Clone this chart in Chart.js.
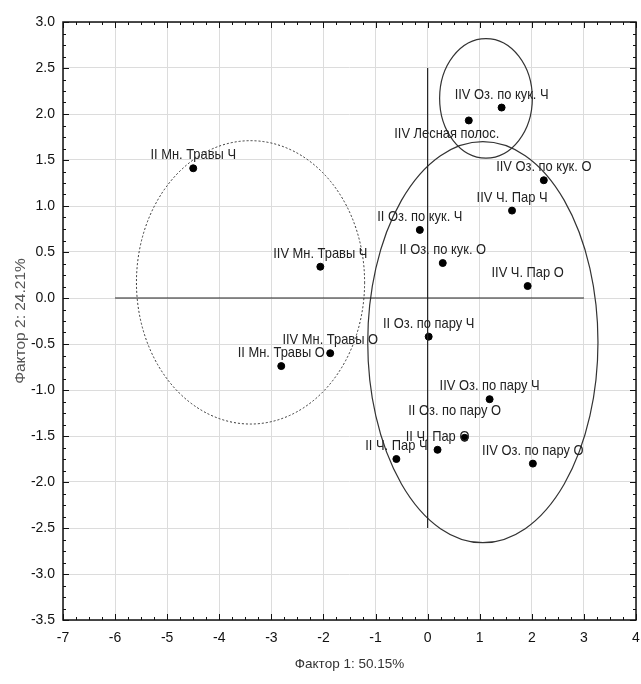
<!DOCTYPE html>
<html>
<head>
<meta charset="utf-8">
<script src="https://cdn.jsdelivr.net/npm/chart.js@4.4.0/dist/chart.umd.min.js"></script>
<style>
    html, body { margin: 0; padding: 0; background: #fff; }
</style>
</head>
<body>
<canvas id="myChart" width="641" height="684"></canvas>
<script>
// point names + factor scores
var names = [
    "IIV Оз. по кук. Ч", "IIV Лесная полос.", "IIV Оз. по кук. О", "IIV Ч. Пар Ч",
    "II Оз. по кук. Ч", "II Оз. по кук. О", "IIV Ч. Пар О", "II Мн. Травы Ч",
    "IIV Мн. Травы Ч", "IIV Мн. Травы О", "II Мн. Травы О", "II Оз. по пару Ч",
    "IIV Оз. по пару Ч", "II Оз. по пару О", "II Ч. Пар О", "II Ч. Пар Ч",
    "IIV Оз. по пару О"
];
var factor1 = [1.42, 0.79, 2.23, 1.62, -0.15, 0.29, 1.92, -4.50, -2.06, -1.87, -2.81, 0.02, 1.19, 0.71, 0.19, -0.60, 2.02];
var factor2 = [2.07, 1.93, 1.28, 0.95, 0.74, 0.38, 0.13, 1.41, 0.34, -0.60, -0.74, -0.42, -1.10, -1.52, -1.65, -1.75, -1.80];

var xTicks = [-7, -6, -5, -4, -3, -2, -1, 0, 1, 2, 3, 4];
var yTicks = [-3.5, -3.0, -2.5, -2.0, -1.5, -1.0, -0.5, 0.0, 0.5, 1.0, 1.5, 2.0, 2.5, 3.0];

// group ellipses (data units)
var ellipseCx = [-3.40, 1.12, 1.06];
var ellipseCy = [0.17, 2.17, -0.48];
var ellipseRx = [2.19, 0.89, 2.21];
var ellipseRy = [1.54, 0.65, 2.18];

// cross lines through origin
var hLineX = [-6, 3];
var vLineY = [-2.5, 2.5];

var xTitle = "Фактор 1: 50.15%";
var yTitle = "Фактор 2: 24.21%";

var sans = "'Liberation Sans', Arial, sans-serif";

var points = names.map(function (n, i) { return { x: factor1[i], y: factor2[i] }; });

// labels that were dragged away from the default spot (dx, dy from point)
var labelShift = {
    "IIV Лесная полос.": [-22, 13],
    "II Оз. по пару О": [-10, -27]
};

var ellipsePlugin = {
    id: 'ellipses',
    beforeDatasetsDraw: function (chart) {
        var ctx = chart.ctx, xs = chart.scales.x, ys = chart.scales.y;
        ctx.save();
        ctx.strokeStyle = '#333';
        for (var i = 0; i < ellipseCx.length; i++) {
            var cx = xs.getPixelForValue(ellipseCx[i]);
            var cy = ys.getPixelForValue(ellipseCy[i]);
            var rx = Math.abs(xs.getPixelForValue(ellipseCx[i] + ellipseRx[i]) - cx);
            var ry = Math.abs(ys.getPixelForValue(ellipseCy[i] + ellipseRy[i]) - cy);
            ctx.lineWidth = i === 0 ? 1 : 1.2;
            ctx.setLineDash(i === 0 ? [2, 2] : []);
            ctx.beginPath();
            ctx.ellipse(cx, cy, rx, ry, 0, 0, Math.PI * 2);
            ctx.stroke();
        }
        ctx.restore();
    }
};

// point labels, squeezed a bit sideways like the original narrow font
var labelPlugin = {
    id: 'pointLabels',
    afterDatasetsDraw: function (chart) {
        var ctx = chart.ctx;
        var meta = chart.getDatasetMeta(2);
        ctx.save();
        ctx.font = "15px " + sans;
        ctx.fillStyle = '#222';
        ctx.textAlign = 'center';
        ctx.textBaseline = 'middle';
        meta.data.forEach(function (el, i) {
            var s = labelShift[names[i]] || [0, -13];
            ctx.save();
            ctx.translate(el.x + s[0], el.y + s[1]);
            ctx.scale(0.86, 1);
            ctx.fillText(names[i], 0, 0);
            ctx.restore();
        });
        ctx.restore();
    }
};

// Statistica style frame: box on all sides, ticks pointing inwards
var framePlugin = {
    id: 'frame',
    afterDraw: function (chart) {
        var ctx = chart.ctx, a = chart.chartArea, xs = chart.scales.x, ys = chart.scales.y;
        ctx.save();
        ctx.strokeStyle = '#111';
        ctx.lineWidth = 1.5;
        ctx.strokeRect(a.left, a.top, a.right - a.left, a.bottom - a.top);
        ctx.lineWidth = 1;
        ctx.beginPath();
        for (var v = xTicks[0]; v <= xTicks[xTicks.length - 1] + 1e-9; v += 0.25) {
            var px = Math.round(xs.getPixelForValue(v)) + 0.5;
            var len = Math.abs(v - Math.round(v)) < 1e-6 ? 6 : 3;
            ctx.moveTo(px, a.bottom); ctx.lineTo(px, a.bottom - len);
            ctx.moveTo(px, a.top); ctx.lineTo(px, a.top + len);
        }
        for (var w = yTicks[0]; w <= yTicks[yTicks.length - 1] + 1e-9; w += 0.125) {
            var py = Math.round(ys.getPixelForValue(w)) + 0.5;
            var l2 = Math.abs(w * 2 - Math.round(w * 2)) < 1e-6 ? 6 : 3;
            ctx.moveTo(a.left, py); ctx.lineTo(a.left + l2, py);
            ctx.moveTo(a.right, py); ctx.lineTo(a.right - l2, py);
        }
        ctx.stroke();
        ctx.restore();
    }
};

const ctx = document.getElementById('myChart').getContext('2d');

var myChart = new Chart(ctx, {
    type: 'scatter',
    data: {
        datasets: [{
            label: 'h',
            data: hLineX.map(function (v) { return { x: v, y: 0 }; }),
            showLine: true,
            borderColor: '#222',
            borderWidth: 1.2,
            pointRadius: 0
        }, {
            label: 'v',
            data: vLineY.map(function (v) { return { x: 0, y: v }; }),
            showLine: true,
            borderColor: '#222',
            borderWidth: 1.2,
            pointRadius: 0
        }, {
            label: 'points',
            data: points,
            backgroundColor: '#000',
            borderColor: '#000',
            pointRadius: 3.5
        }]
    },
    options: {
        responsive: false,
        devicePixelRatio: 1,
        animation: { duration: 0 },
        layout: { padding: { top: 22, right: 4, left: 0, bottom: 0 } },
        plugins: {
            legend: { display: false },
            tooltip: { enabled: false }
        },
        scales: {
            x: {
                type: 'linear',
                min: -7,
                max: 4,
                afterBuildTicks: function (scale) { scale.ticks = xTicks.map(function (v) { return { value: v }; }); },
                afterFit: function (scale) {
                    scale.height = 64;
                    scale.paddingLeft = 0;
                    scale.paddingRight = 0;
                },
                grid: { color: '#dcdcdc', drawTicks: false },
                border: { display: false },
                ticks: {
                    color: '#111',
                    padding: 10,
                    maxRotation: 0,
                    font: { family: sans, size: 14 },
                    callback: function (v) { return String(v); }
                },
                title: {
                    display: true,
                    text: xTitle,
                    color: '#333',
                    font: { family: sans, size: 13.5 },
                    padding: { top: 0, bottom: 12 }
                }
            },
            y: {
                type: 'linear',
                min: -3.5,
                max: 3,
                afterBuildTicks: function (scale) { scale.ticks = yTicks.map(function (v) { return { value: v }; }); },
                afterFit: function (scale) {
                    scale.width = 63;
                    scale.paddingTop = 0;
                    scale.paddingBottom = 0;
                },
                grid: { color: '#dcdcdc', drawTicks: false },
                border: { display: false },
                ticks: {
                    color: '#111',
                    padding: 8,
                    font: { family: sans, size: 14 },
                    callback: function (v) { return Number(v).toFixed(1); }
                },
                title: {
                    display: true,
                    text: yTitle,
                    color: '#555',
                    font: { family: sans, size: 15.5 },
                    padding: { top: 11, bottom: 0 }
                }
            }
        }
    },
    plugins: [ellipsePlugin, labelPlugin, framePlugin]
});
</script>
</body>
</html>
